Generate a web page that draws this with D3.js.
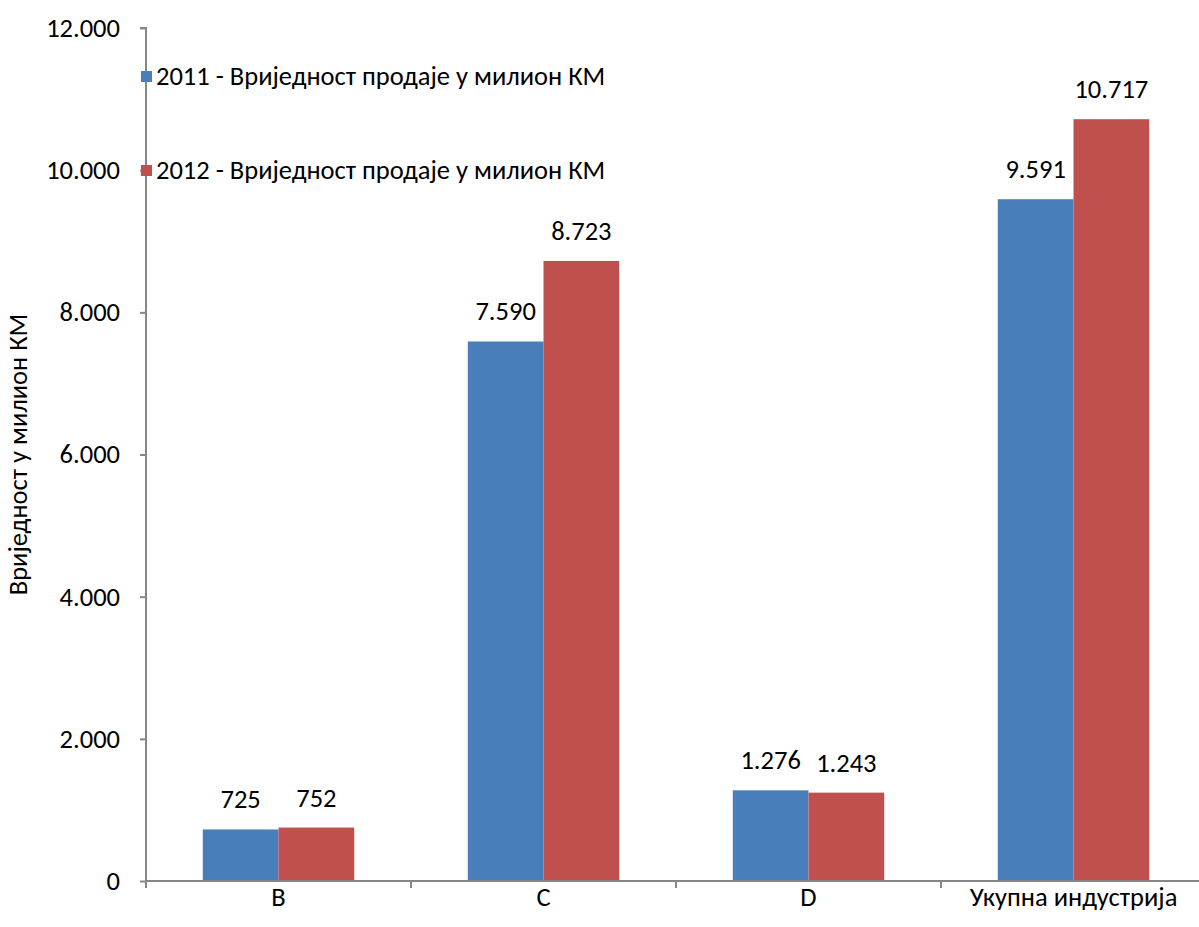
<!DOCTYPE html>
<html><head><meta charset="utf-8">
<script src="https://cdn.jsdelivr.net/npm/d3@7"></script>
<style>html,body{margin:0;padding:0;background:#fff;overflow:hidden}svg{display:block}</style>
</head><body>
<svg id="chart" width="1199" height="927"></svg>
<script>
const categories = ["B", "C", "D", "Укупна индустрија"];
const series2011 = [725, 7590, 1276, 9591];
const series2012 = [752, 8723, 1243, 10717];
const seriesNames = ["2011 - Вриједнoст продаје у милион КМ", "2012 - Вриједнoст продаје у милион КМ"];
const yTicks = [0, 2000, 4000, 6000, 8000, 10000, 12000];
const yTitle = "Вриједнoст у милион КМ";

const FONT = "Carlito, Calibri, Lato, 'Open Sans', sans-serif";
const FS = 26.5;
const colors = ["#4A7EBB", "#C0504D"];
const axisColor = "#868686";
const svg = d3.select("#chart");
const x0 = 146, x1 = 146 + 4 * 265, yb = 881, yt = 28;

const x = d3.scaleBand().domain(categories).range([x0, x1]).paddingInner(0).paddingOuter(0);
const keys = ["s2011", "s2012"];
const inner = d3.scaleBand().domain(keys).range([0, x.bandwidth()]).paddingInner(0).paddingOuter(0.75);
const y = d3.scaleLinear().domain([0, 12000]).range([yb, yt]);
const fmt = v => d3.format(",")(v).replace(/,/g, ".");

const data = categories.map((c, i) => ({cat: c, s2011: series2011[i], s2012: series2012[i]}));

// bars
keys.forEach((k, ki) => {
  svg.append("g").selectAll("rect").data(data).join("rect")
    .attr("x", d => x(d.cat) + inner(k))
    .attr("y", d => y(d[k]))
    .attr("width", inner.bandwidth())
    .attr("height", d => y(0) - y(d[k]))
    .attr("fill", colors[ki]);
  svg.append("g").selectAll("text").data(data).join("text")
    .attr("x", d => x(d.cat) + inner(k) + inner.bandwidth() / 2)
    .attr("y", d => y(d[k]) - 21)
    .attr("text-anchor", "middle")
    .attr("font-family", FONT).attr("font-size", FS).attr("fill", "#000")
    .text(d => fmt(d[k]));
});

// y axis
const yAxis = d3.axisLeft(y).tickValues(yTicks).tickSize(6).tickPadding(20).tickFormat(fmt);
const gy = svg.append("g").attr("transform", `translate(${x0},0)`).call(yAxis);
gy.select(".domain").attr("stroke", axisColor).attr("stroke-width", 2).attr("d", `M-6,${yt}H0V${yb}`);
gy.selectAll(".tick line").attr("stroke", axisColor).attr("stroke-width", 2);
gy.selectAll(".tick text").attr("font-family", FONT).attr("font-size", FS).attr("fill", "#000");

// x axis
const xAxis = d3.axisBottom(x).tickSize(0).tickPadding(6);
const gx = svg.append("g").attr("transform", `translate(0,${yb})`).call(xAxis);
gx.select(".domain").attr("stroke", axisColor).attr("stroke-width", 2).attr("d", `M${x0},0H${x1}`);
gx.selectAll(".tick text").attr("font-family", FONT).attr("font-size", FS).attr("fill", "#000");
const bounds = categories.map(c => x(c)).concat([x1]);
gx.selectAll(".bnd").data(bounds).join("line").attr("class", "bnd")
  .attr("x1", d => d).attr("x2", d => d).attr("y1", 0).attr("y2", 7)
  .attr("stroke", axisColor).attr("stroke-width", 2);

// y title
svg.append("text")
  .attr("transform", `translate(27,${(yb + yt) / 2}) rotate(-90)`)
  .attr("text-anchor", "middle")
  .attr("font-family", FONT).attr("font-size", FS).attr("fill", "#000")
  .text(yTitle);

// legend
const legY = [76, 170];
seriesNames.forEach((n, i) => {
  svg.append("rect").attr("x", 141).attr("y", legY[i] - 5).attr("width", 11).attr("height", 11).attr("fill", colors[i]);
  svg.append("text").attr("x", 156).attr("y", legY[i] + 9)
    .attr("font-family", FONT).attr("font-size", FS).attr("fill", "#000").text(n);
});
</script>
</body></html>
